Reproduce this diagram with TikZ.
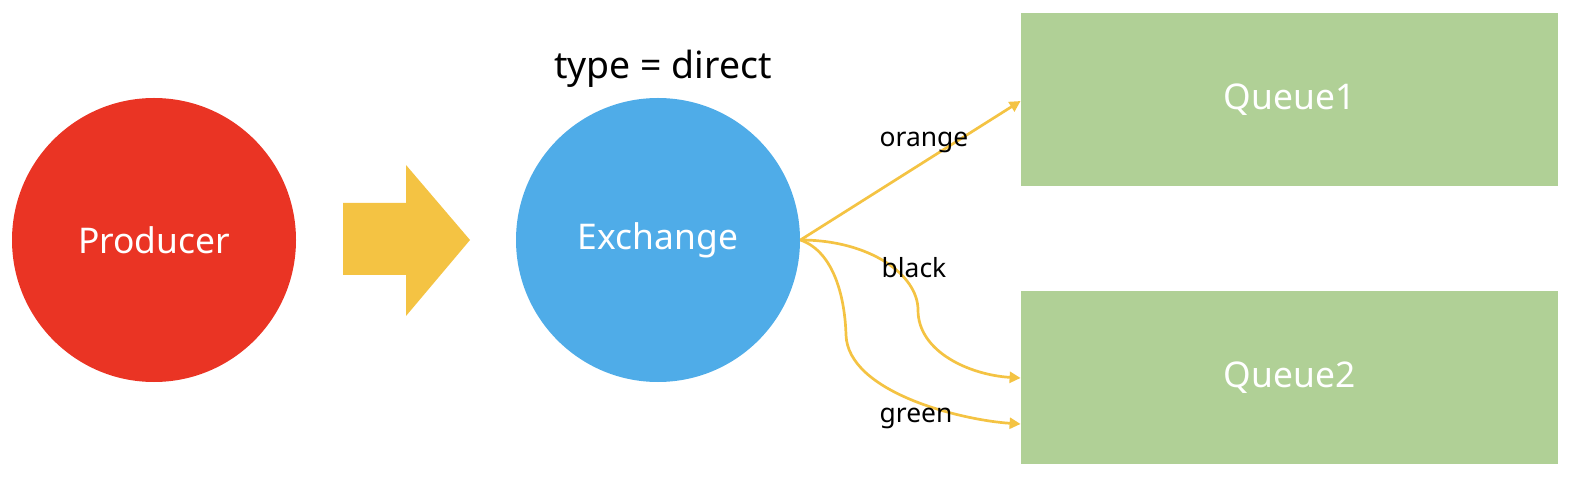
\documentclass[tikz,border=0pt]{standalone}
\usepackage{fontspec}
\setmainfont{Noto Sans}
\usetikzlibrary{arrows.meta}
\definecolor{prodred}{HTML}{EA3424}
\definecolor{exblue}{HTML}{4FACE8}
\definecolor{qgreen}{HTML}{B0D096}
\definecolor{arrowyellow}{HTML}{F4C343}
\tikzset{
  ball/.style={circle, minimum size=142pt, inner sep=0pt, text=white, font=\fontsize{17.7}{20}\selectfont},
  queue/.style={rectangle, minimum width=268.5pt, minimum height=86.5pt, inner sep=0pt, fill=qgreen, text=white, font=\fontsize{17.7}{20}\selectfont},
  link/.style={draw=arrowyellow, line width=1.35pt, -{Triangle[length=5.5pt,width=5.5pt]}},
  lbl/.style={font=\fontsize{13.2}{15}\selectfont, inner sep=0pt},
}
\begin{document}
\begin{tikzpicture}[x=0.5pt,y=-0.5pt]
\useasboundingbox (0,0) rectangle (1572,480);
\node[ball, fill=prodred] (prod) at (154,240) {Producer};
\node[ball, fill=exblue] (ex) at (658,240) {Exchange};
\node[font=\fontsize{18.7}{22}\selectfont, inner sep=0pt] (type) at (663,69) {type = direct};
\fill[arrowyellow] (343,203) -- (406,203) -- (406,165) -- (470,240) -- (406,316) -- (406,275) -- (343,275) -- cycle;
\node[queue] (q1) at (1289.5,99.5) {\raisebox{-2pt}{Queue1}};
\node[queue] (q2) at (1289.5,377.5) {\raisebox{-2pt}{Queue2}};
\coordinate (qa) at (q1.west |- 0,101);
\coordinate (qb) at (q2.west |- 0,378);
\coordinate (qc) at (q2.west |- 0,424);
\draw[link] (ex.east) -- (qa);
\draw[link] (ex.east) .. controls (870,240) and (918,275) .. (918,310) .. controls (918,352) and (970,375) .. (qb);
\draw[link] (ex.east) .. controls (835,252) and (845,300) .. (846,335) .. controls (848,392) and (960,420) .. (qc);
\node[lbl] (lo) at (924,142) {orange};
\node[lbl] (lb) at (914,268) {black};
\node[lbl] (lg) at (916,418) {green};
\end{tikzpicture}
\end{document}
